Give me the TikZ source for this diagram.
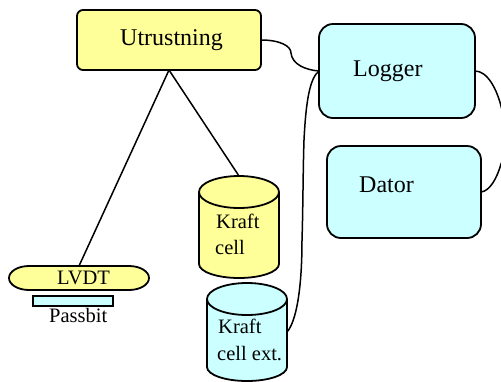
\documentclass[tikz,border=0pt]{standalone}
\usepackage{fontspec}
\setmainfont{Liberation Serif}
\definecolor{paleyellow}{HTML}{FFFF99}
\definecolor{palecyan}{HTML}{CCFFFF}
\tikzset{
	box/.style={draw,rectangle,line width=1.8,outer sep=0pt,inner sep=0pt},
	shell/.style={rectangle,outer sep=0pt,inner sep=0pt},
	bodyline/.style={line width=1.8,line join=round},
	big/.style={anchor=base west,inner sep=0pt,font=\fontsize{24}{24}\selectfont},
	small/.style={anchor=base west,inner sep=0pt,font=\fontsize{20.5}{20.5}\selectfont},
	link/.style={line width=1.5}
}
\newcommand{\canbody}[3]{
	\draw [bodyline,fill=#2] (#1.north west) ++(0,16)
		arc [start angle=180,end angle=0,x radius=40pt,y radius=16pt]
		-- ++(0,#3)
		arc [start angle=0,end angle=-180,x radius=40pt,y radius=14pt] -- cycle;
	\draw [bodyline] (#1.north west) ++(0,16)
		arc [start angle=180,end angle=360,x radius=40pt,y radius=16pt];
}
\begin{document}
\begin{tikzpicture}[x=1pt,y=-1pt]
	\useasboundingbox (0,0) rectangle (501,381);
	\clip (0,0) rectangle (501,381);
	\node [box,fill=paleyellow,rounded corners=6,minimum width=184,minimum height=60] (utrustning) at (169,40) {};
	\node [box,fill=palecyan,rounded corners=14,minimum width=156,minimum height=94] (logger) at (397,71) {};
	\node [box,fill=palecyan,rounded corners=14,minimum width=154,minimum height=92] (dator) at (404,192) {};
	\node [shell,minimum width=140,minimum height=24] (lvdt) at (79,278) {};
	\node [box,fill=palecyan,minimum width=80,minimum height=10] (passbit) at (73,301) {};
	\node [shell,minimum width=80,minimum height=102] (kraft) at (239,227) {};
	\node [shell,minimum width=80,minimum height=98] (kraftext) at (247,332) {};
	\draw [bodyline,fill=paleyellow] (lvdt.north west) ++(20,0) -- ++(100,0)
		arc [start angle=90,end angle=-90,x radius=20pt,y radius=12pt] -- ++(-100,0)
		arc [start angle=270,end angle=90,x radius=20pt,y radius=12pt] -- cycle;
	\canbody{kraft}{paleyellow}{72}
	\canbody{kraftext}{palecyan}{68}
	\draw [link] (utrustning.south) to (lvdt.north);
	\draw [link] (utrustning.south) to (kraft.north);
	\draw [link] (utrustning.east) .. controls (280,40) and (291,46) .. (291,53) .. controls (292,64) and (305,70) .. (logger.west);
	\draw [link] (logger.west) .. controls (310,78) and (306,100) .. (304,140) .. controls (303,170) and (303,210) .. (302,240) .. controls (302,290) and (296,322) .. (kraftext.east);
	\draw [link] (logger.east) .. controls (487,71) and (497,88) .. (502,110) .. controls (508,130) and (508,150) .. (501,164) .. controls (497,178) and (490,191) .. (dator.east);
	\node [big] (utrustningtext) at (120,45) {Utrustning};
	\node [big] (loggertext) at (353,76) {Logger};
	\node [big] (datortext) at (359,192) {Dator};
	\node [small] (lvdttext) at (57,284) {LVDT};
	\node [small] (passbittext) at (49,322) {Passbit};
	\node [small] (krafttext) at (216,228) {Kraft};
	\node [small] (celltext) at (215,254) {cell};
	\node [small] (kraftexttext) at (218,333) {Kraft};
	\node [small] (cellexttext) at (217,360) {cell ext.};
\end{tikzpicture}
\end{document}
